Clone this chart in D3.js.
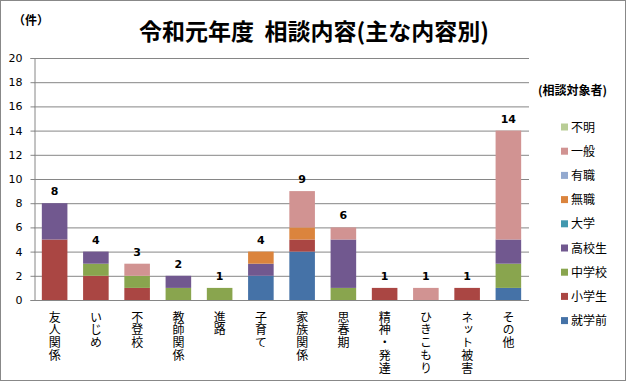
<!DOCTYPE html>
<html><head><meta charset="utf-8">
<script src="https://cdn.jsdelivr.net/npm/d3@7"></script>
<style>body{margin:0;background:#fff}svg{display:block}</style>
</head><body>
<svg id="c" width="626" height="381"></svg>
<script>
const categories = ["友人関係","いじめ","不登校","教師関係","進路","子育て","家族関係","思春期","精神・発達","ひきこもり","ネット被害","その他"];
const seriesNames = ["就学前","小学生","中学校","高校生","大学","無職","有職","一般","不明"];
const seriesColors = ["#4572A7","#AA4643","#89A54E","#71588F","#4198AF","#DB843D","#93A9CF","#D19392","#B9CD96"];
const v_shugakumae = [0,0,0,0,0,2,4,0,0,0,0,1];
const v_shogakusei = [5,2,1,0,0,0,1,0,1,0,1,0];
const v_chugakko   = [0,1,1,1,1,0,0,1,0,0,0,2];
const v_kokosei    = [3,1,0,1,0,1,0,4,0,0,0,2];
const v_daigaku    = [0,0,0,0,0,0,0,0,0,0,0,0];
const v_mushoku    = [0,0,0,0,0,1,1,0,0,0,0,0];
const v_yushoku    = [0,0,0,0,0,0,0,0,0,0,0,0];
const v_ippan      = [0,0,1,0,0,0,3,1,0,1,0,9];
const v_fumei      = [0,0,0,0,0,0,0,0,0,0,0,0];
const seriesValues = [v_shugakumae,v_shogakusei,v_chugakko,v_kokosei,v_daigaku,v_mushoku,v_yushoku,v_ippan,v_fumei];
const yTicks = [0,2,4,6,8,10,12,14,16,18,20];

(function(){
const svg = d3.select("#c");
const jp = "'Noto Sans CJK JP', sans-serif";
const num = "'DejaVu Sans', Verdana, sans-serif";

svg.append("rect").attr("x",0.5).attr("y",0.5).attr("width",625).attr("height",380)
  .attr("fill","#fff").attr("stroke","#888");

const pLeft=34, pRight=529, pTop=58, pBottom=300;
const x = d3.scaleBand().domain(categories).range([pLeft,pRight]).paddingInner(0.38).paddingOuter(0.19);
const y = d3.scaleLinear().domain([0,20]).range([pBottom,pTop]);

svg.append("g").selectAll("line").data(yTicks.filter(d=>d>0)).join("line")
  .attr("x1",pLeft).attr("x2",pRight).attr("y1",d=>y(d)+0.5).attr("y2",d=>y(d)+0.5)
  .attr("stroke","#868686").attr("stroke-width",1);

const rows = categories.map((c,i)=>{const o={cat:c}; seriesNames.forEach((s,j)=>o[s]=seriesValues[j][i]); return o;});
const stack = d3.stack().keys(seriesNames)(rows);
svg.append("g").selectAll("g").data(stack).join("g")
  .attr("fill",(d,i)=>seriesColors[i])
  .selectAll("rect").data(d=>d.filter(p=>p[1]-p[0]>0)).join("rect")
  .attr("x",d=>x(d.data.cat)).attr("width",x.bandwidth())
  .attr("y",d=>y(d[1])).attr("height",d=>y(d[0])-y(d[1]));

const yAxis = d3.axisLeft(y).tickValues(yTicks).tickSize(4).tickPadding(8);
const ga = svg.append("g").attr("transform",`translate(${pLeft+0.5},0)`).call(yAxis);
ga.select(".domain").attr("stroke","#868686");
ga.selectAll(".tick line").attr("stroke","#868686");
ga.selectAll(".tick text").attr("font-family",num).attr("font-size",11).attr("fill","#000");

svg.append("line").attr("x1",pLeft).attr("x2",pRight).attr("y1",pBottom+0.5).attr("y2",pBottom+0.5).attr("stroke","#868686");

const totals = categories.map((c,i)=>d3.sum(seriesValues,s=>s[i]));
svg.append("g").selectAll("text").data(categories).join("text")
  .attr("x",d=>x(d)+x.bandwidth()/2).attr("y",(d,i)=>y(totals[i])-8)
  .attr("text-anchor","middle").attr("font-family",num).attr("font-size",11).attr("font-weight","bold")
  .text((d,i)=>totals[i]);

svg.append("g").selectAll("text").data(categories).join("text")
  .attr("font-family",jp).attr("font-size",12).attr("fill","#000")
  .style("writing-mode","vertical-rl").style("text-orientation","upright")
  .attr("letter-spacing",0.8)
  .attr("x",d=>x(d)+x.bandwidth()/2).attr("y",311)
  .text(d=>d);

svg.append("text").attr("x",314).attr("y",40).attr("text-anchor","middle")
  .attr("font-family",jp).attr("font-size",23).attr("font-weight","bold")
  .style("white-space","pre").text("令和元年度  相談内容(主な内容別)");
svg.append("text").attr("x",13).attr("y",25).attr("font-family",jp).attr("font-size",12).attr("font-weight","bold").text("（件）");

svg.append("text").attr("x",538).attr("y",95).attr("font-family",jp).attr("font-size",12).attr("font-weight","bold").text("(相談対象者)");
const legendOrder = seriesNames.map((s,i)=>i).reverse();
const lg = svg.append("g").selectAll("g").data(legendOrder).join("g")
  .attr("transform",(d,k)=>`translate(561,${127+k*24.2})`);
lg.append("rect").attr("x",0).attr("y",-3.5).attr("width",7).attr("height",7).attr("fill",d=>seriesColors[d]);
lg.append("text").attr("x",10).attr("y",4.5).attr("font-family",jp).attr("font-size",12).text(d=>seriesNames[d]);
})();
</script>
</body></html>
